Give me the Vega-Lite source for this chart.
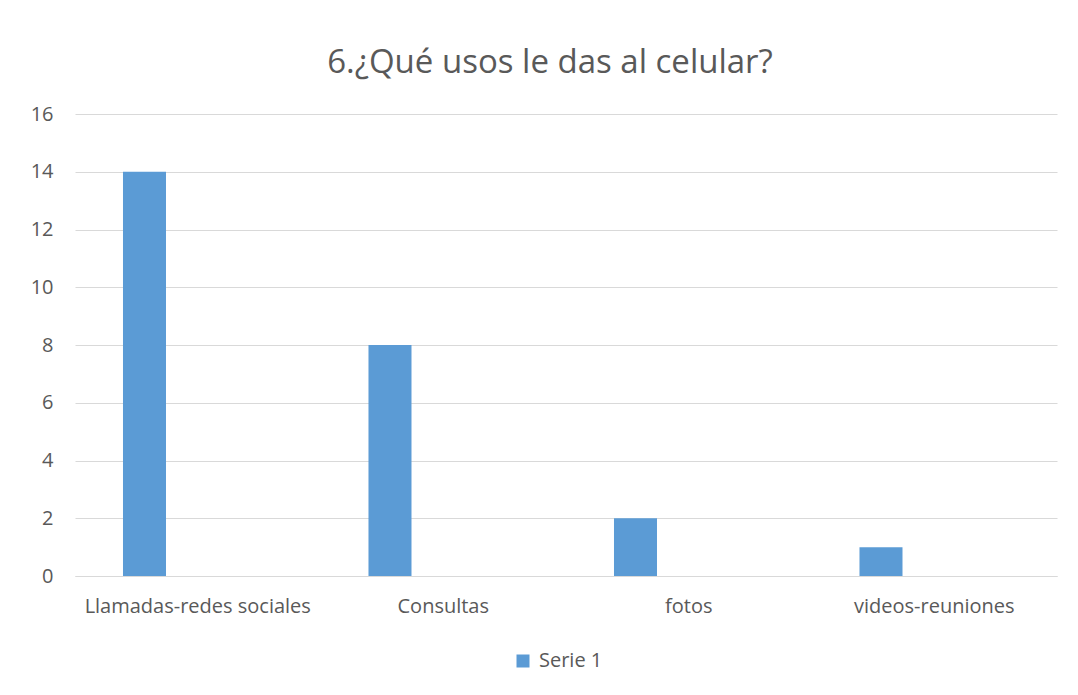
{
  "$schema": "https://vega.github.io/schema/vega-lite/v6.json",
  "autosize": "none",
  "width": 982,
  "height": 462,
  "padding": {"left": 75, "top": 114, "right": 21, "bottom": 119},
  "background": "white",
  "title": {
    "text": "6.¿Qué usos le das al celular?",
    "font": "Open Sans",
    "fontSize": 33,
    "fontWeight": "normal",
    "color": "#595959",
    "anchor": "middle",
    "baseline": "alphabetic",
    "offset": -2,
    "dx": -16
  },
  "data": {
    "values": [
      {"categoria": "Llamadas-redes sociales", "serie": "Serie 1", "valor": 14},
      {"categoria": "Consultas", "serie": "Serie 1", "valor": 8},
      {"categoria": "fotos", "serie": "Serie 1", "valor": 2},
      {"categoria": "videos-reuniones", "serie": "Serie 1", "valor": 1}
    ]
  },
  "mark": {"type": "bar"},
  "encoding": {
    "x": {
      "field": "categoria",
      "type": "nominal",
      "sort": null,
      "scale": {"paddingInner": 0, "paddingOuter": 0},
      "axis": {
        "title": null,
        "labelAngle": 0,
        "labelFont": "Open Sans",
        "labelFontSize": 20,
        "labelColor": "#595959",
        "labelPadding": 20,
        "labelLimit": 0,
        "ticks": false,
        "domainColor": "#D9D9D9",
        "domainWidth": 1
      }
    },
    "xOffset": {
      "field": "serie",
      "type": "nominal",
      "scale": {"domain": ["Serie 1", "Serie 2", "Serie 3"], "paddingInner": 0.1925, "paddingOuter": 0.901}
    },
    "y": {
      "field": "valor",
      "type": "quantitative",
      "scale": {"domain": [0, 16], "nice": false},
      "axis": {
        "title": null,
        "values": [0, 2, 4, 6, 8, 10, 12, 14, 16],
        "labelFont": "Open Sans",
        "labelFontSize": 20,
        "labelColor": "#595959",
        "labelPadding": 22,
        "ticks": false,
        "domain": false,
        "gridColor": "#D9D9D9",
        "gridWidth": 1
      }
    },
    "color": {
      "field": "serie",
      "type": "nominal",
      "scale": {"domain": ["Serie 1"], "range": ["#5B9BD5"]},
      "legend": {
        "title": null,
        "orient": "none",
        "legendX": 438,
        "legendY": 537,
        "padding": 0,
        "direction": "horizontal",
        "symbolType": "square",
        "symbolSize": 169,
        "symbolStrokeWidth": 0,
        "labelOffset": 6,
        "labelFont": "Open Sans",
        "labelFontSize": 20,
        "labelColor": "#595959"
      }
    }
  },
  "config": {
    "view": {"stroke": null}
  }
}
